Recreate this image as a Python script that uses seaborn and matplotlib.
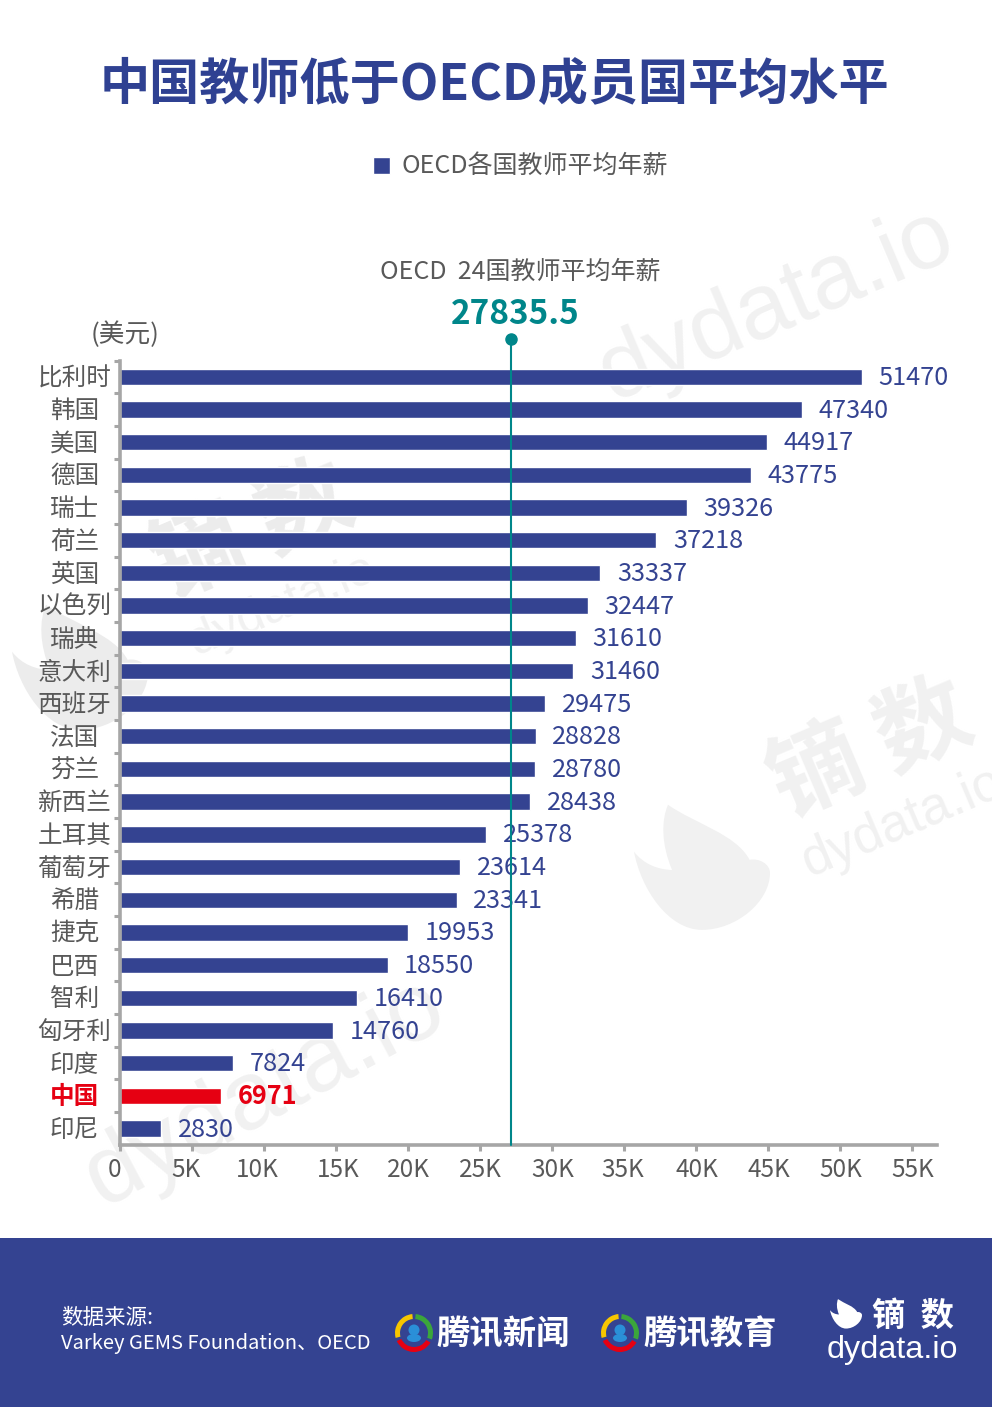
import matplotlib
matplotlib.use('Agg')
import matplotlib.pyplot as plt
from matplotlib.patches import Rectangle, Wedge, Circle, Ellipse, PathPatch, Patch
from matplotlib.path import Path
from matplotlib.transforms import ScaledTranslation
import pandas as pd
import seaborn as sns

# Данные
countries = ['比利时', '韩国', '美国', '德国', '瑞士', '荷兰', '英国', '以色列', '瑞典', '意大利',
             '西班牙', '法国', '芬兰', '新西兰', '土耳其', '葡萄牙', '希腊', '捷克', '巴西', '智利',
             '匈牙利', '印度', '中国', '印尼']
salaries = [51470, 47340, 44917, 43775, 39326, 37218, 33337, 32447, 31610, 31460,
            29475, 28828, 28780, 28438, 25378, 23614, 23341, 19953, 18550, 16410,
            14760, 7824, 6971, 2830]
x_ticks = [0, 5000, 10000, 15000, 20000, 25000, 30000, 35000, 40000, 45000, 50000, 55000]
x_tick_labels = ['0', '5K', '10K', '15K', '20K', '25K', '30K', '35K', '40K', '45K', '50K', '55K']
highlight = '中国'
avg_label = '27835.5'
# линия на картинке стоит здесь, а не на подписанном значении
avg_line_pos = 27100

BLUE = '#344391'
RED = '#e60012'
TEAL = '#00868a'
GRAY = '#595959'
AXIS = '#a6a6a6'
MARK = '#f1f1f1'

sns.set_theme(style='white')
plt.rcParams['font.family'] = ['Noto Sans CJK SC', 'DejaVu Sans']

W, H = 992, 1407
fig = plt.figure(figsize=(W / 100, H / 100), dpi=100, facecolor='white')

# Фон в пикселях: водяные знаки и подвал
bg = fig.add_axes([0, 0, 1, 1], zorder=-1)
bg.set_xlim(0, W)
bg.set_ylim(H, 0)
bg.axis('off')


def leaf(cx, cy, s, color):
    # лист логотипа, s - масштаб
    verts = [(-0.5, -0.93), (-0.1, -0.65), (0.5, -0.5), (0.7, -0.12), (0.85, -0.15), (1.0, -0.05), (1.0, 0.07),
             (1.0, 0.5), (0.5, 0.91), (0.0, 0.91), (-0.5, 0.91), (-0.9, 0.3), (-1.0, -0.24),
             (-0.85, -0.05), (-0.65, 0.02), (-0.44, 0.03), (-0.6, -0.35), (-0.6, -0.7), (-0.5, -0.93)]
    codes = [Path.MOVETO] + [Path.CURVE4] * 18
    path = Path([(cx + x * s, cy + y * s) for x, y in verts], codes)
    bg.add_patch(PathPatch(path, facecolor=color, edgecolor='none'))


for x, y, size, rot in [(776, 306, 67, 23), (903, 822, 38, 23), (282, 606, 35, 23), (265, 1093, 70, 28)]:
    bg.text(x, y, 'dydata.io', fontsize=size, rotation=rot, color=MARK, ha='center', va='center',
            family='Liberation Sans')
for x, y, size, rot, col in [(871, 750, 68, 23, MARK), (252, 532, 68, 23, '#ececec')]:
    bg.text(x, y, '镝 数', fontsize=size, rotation=rot, color=col, ha='center', va='center', fontweight='bold')
leaf(702, 868, 68, MARK)
leaf(80, 668, 68, '#ececec')

bg.add_patch(Rectangle((0, 1238), W, H - 1238, facecolor=BLUE, edgecolor='none'))

# Основной график
left, right, top, bottom = 120.4, 937, 360.5, 1144.8
ax = fig.add_axes([left / W, 1 - bottom / H, (right - left) / W, (bottom - top) / H])
ax.patch.set_visible(False)

df = pd.DataFrame({'country': countries, 'salary': salaries})
palette = {c: (RED if c == highlight else BLUE) for c in countries}
sns.barplot(data=df, x='salary', y='country', hue='country', palette=palette, order=countries,
            hue_order=countries, dodge=False, legend=False, width=0.5, saturation=1, ax=ax)

ax.set_xlim(0, (right - left) / 72 * 5000)
ax.set_ylim(len(countries) - 0.5, -0.5)
ax.set_xlabel('')
ax.set_ylabel('')

for side in ['top', 'right']:
    ax.spines[side].set_visible(False)
for side in ['left', 'bottom']:
    ax.spines[side].set_color(AXIS)
    ax.spines[side].set_linewidth(2.6)
    ax.spines[side].set_zorder(4)

# Подписи значений
for cont, name, val in zip(ax.containers, countries, salaries):
    is_hl = name == highlight
    labs = ax.bar_label(cont, labels=[str(val)], padding=12, fontsize=18.2,
                        color=RED if is_hl else BLUE, fontweight='bold' if is_hl else 'normal')
    for lab in labs:
        lab.xyann = (12, -0.8)

# Ось X
ax.set_xticks(x_ticks)
ax.set_xticklabels(x_tick_labels, fontsize=17.5, color=GRAY)
ax.tick_params(axis='x', bottom=True, length=4, width=2.2, color=AXIS, pad=5)
shifts = {'0': -4.3, '5K': -4.5, '10K': -5, '15K': 1, '35K': -1.4, '40K': 0.7}
for lab in ax.get_xticklabels():
    if lab.get_text() in shifts:
        lab.set_transform(lab.get_transform() + ScaledTranslation(shifts[lab.get_text()] / 72, 0, fig.dpi_scale_trans))

# Ось Y: засечки между строками, подписи по центру
ax.set_yticks(range(len(countries)))
ax.set_yticklabels(countries, fontsize=17.7, color=GRAY, ha='center')
ax.tick_params(axis='y', left=False, pad=27)
ax.set_yticks([i - 0.5 for i in range(len(countries))], minor=True)
ax.tick_params(axis='y', which='minor', left=True, length=4, width=2.2, color=AXIS)
for lab in ax.get_yticklabels():
    lab.set_transform(lab.get_transform() + ScaledTranslation(0, 1 / 72, fig.dpi_scale_trans))
    if lab.get_text() == highlight:
        lab.set_color(RED)
        lab.set_fontweight('bold')

# Линия среднего
ax.axvline(avg_line_pos, ymin=0, ymax=1.028, color=TEAL, lw=1.5, clip_on=False, zorder=5)
ax.plot([avg_line_pos], [1.028], marker='o', ms=8, color=TEAL, transform=ax.get_xaxis_transform(),
        clip_on=False, zorder=6)

# Заголовки
bg.text(494.5, 85.5, '中国教师低于OECD成员国平均水平', fontsize=36.1, fontweight='bold', color='#2f4192',
        ha='center', va='center')
bg.text(520, 272, 'OECD  24国教师平均年薪', fontsize=18, color=GRAY, ha='center', va='center')
bg.text(515, 315, avg_label, fontsize=24, fontweight='bold', color=TEAL, ha='center', va='center')
bg.text(125, 335, '(美元)', fontsize=18.5, color=GRAY, ha='center', va='center')

# Легенда
leg = fig.legend(handles=[Patch(facecolor=BLUE, label='OECD各国教师平均年薪')], loc='center',
                 bbox_to_anchor=(520.5 / W, 1 - 167 / H), frameon=False, fontsize=18, handlelength=0.7,
                 handleheight=0.7, handletextpad=0.45)
for t in leg.get_texts():
    t.set_color(GRAY)

# Подвал
bg.text(61, 1318, '数据来源:', fontsize=15.5, color='white', ha='left', va='center')
bg.text(61, 1343, 'Varkey GEMS Foundation、OECD', fontsize=14.5, color='white', ha='left', va='center')


def tencent_logo(cx, cy):
    # ось Y перевёрнута, углы идут по часовой стрелке
    bg.add_patch(Wedge((cx, cy), 19, 165, 265, width=5, facecolor='#f7c600', edgecolor='none'))
    bg.add_patch(Wedge((cx, cy), 19, 275, 20, width=5, facecolor='#3ba63b', edgecolor='none'))
    bg.add_patch(Wedge((cx, cy), 19, 30, 155, width=5, facecolor='#e60012', edgecolor='none'))
    bg.add_patch(Circle((cx, cy - 3), 5.5, facecolor='#2a8fd8', edgecolor='none'))
    bg.add_patch(Ellipse((cx, cy + 5), 14, 8, facecolor='#2a8fd8', edgecolor='none'))


tencent_logo(414, 1333)
tencent_logo(620, 1333)
bg.text(503.5, 1335, '腾讯新闻', fontsize=24, fontweight='bold', color='white', ha='center', va='center')
bg.text(710, 1335, '腾讯教育', fontsize=24, fontweight='bold', color='white', ha='center', va='center')
bg.text(913, 1316, '镝  数', fontsize=24, fontweight='bold', color='white', ha='center', va='center')
bg.text(892.5, 1350, 'dydata.io', fontsize=23.3, color='white', ha='center', va='center', family='Liberation Sans')
leaf(846, 1314, 16, 'white')

fig.savefig('out.png', dpi=100)
